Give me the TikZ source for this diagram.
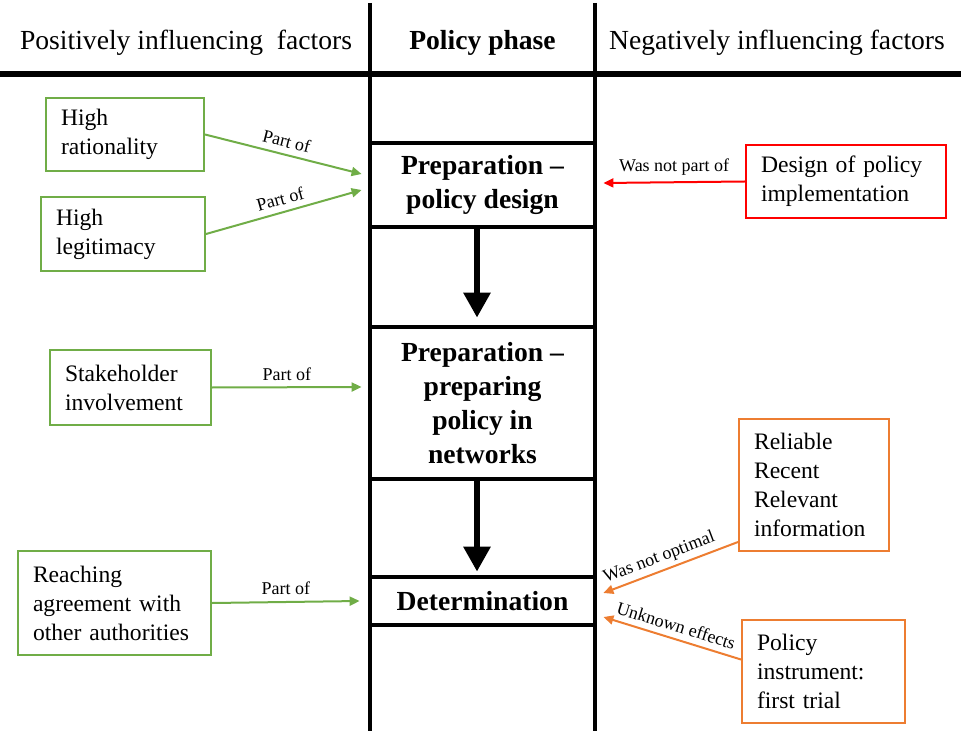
\documentclass[tikz,border=0pt]{standalone}
\usepackage{fontspec}
\setmainfont{Liberation Serif}
\usetikzlibrary{arrows.meta}
\definecolor{posgreen}{HTML}{70AD47}
\definecolor{negorange}{HTML}{ED7D31}
\definecolor{negred}{HTML}{FF0000}

\begin{document}
\begin{tikzpicture}[x=0.5pt, y=-0.5pt,
  factor/.style={draw, line width=1pt, align=left, inner xsep=7.5pt, inner ysep=0pt,
    font=\fontsize{11.8}{14.5}\selectfont},
  phase/.style={align=center, minimum width=112.5pt, inner sep=0pt,
    font=\fontsize{13.8}{17}\selectfont\bfseries},
  header/.style={font=\fontsize{13.8}{15}\selectfont},
  rule/.style={line width=2pt},
  flow/.style={line width=3pt, -{Triangle[length=12.5pt, width=13pt]}},
  link/.style={line width=1pt, -{Triangle[length=5pt, width=4.5pt]}},
  tag/.style={font=\fontsize{9}{10}\selectfont, inner sep=3pt},
]
  \useasboundingbox (0,0) rectangle (961,731);

  % table frame
  \draw[line width=3pt] (0,74) -- (961,74);
  \draw[rule] (370,3) -- (370,731);
  \draw[rule] (595,3) -- (595,731);

  % headers
  \node[header] (poshead) at (186,43) {Positively influencing~~factors};
  \node[header, font=\fontsize{13.8}{15}\selectfont\bfseries] (phasehead) at (482.5,43) {Policy phase};
  \node[header] (neghead) at (777,43) {Negatively influencing~factors};

  % policy phases
  \node[phase, minimum height=42pt] (prep1) at (482.5,185) {Preparation –\\policy design};
  \node[phase, minimum height=76pt] (prep2) at (482.5,403) {Preparation –\\preparing\\policy in\\networks};
  \node[phase, minimum height=24pt] (determ) at (482.5,601) {Determination};
  \draw[rule] (prep1.north west) -- (prep1.north east);
  \draw[rule] (prep1.south west) -- (prep1.south east);
  \draw[rule] (prep2.north west) -- (prep2.north east);
  \draw[rule] (prep2.south west) -- (prep2.south east);
  \draw[rule] (determ.north west) -- (determ.north east);
  \draw[rule] (determ.south west) -- (determ.south east);
  \draw[flow] ([xshift=-2.75pt]prep1.south) -- ([xshift=-2.75pt, yshift=4.5pt]prep2.north);
  \draw[flow] ([xshift=-2.75pt]prep2.south) -- ([xshift=-2.75pt, yshift=2.5pt]determ.north);

  % positive factors
  \node[factor, draw=posgreen, text width=64pt, minimum height=36.5pt] (rationality) at (125,134.5) {High\\rationality};
  \node[factor, draw=posgreen, text width=67pt, minimum height=37pt] (legitimacy) at (123,234) {High\\legitimacy};
  \node[factor, draw=posgreen, text width=65.5pt, minimum height=37.5pt] (stakeholder) at (130.5,387.5) {Stakeholder\\involvement};
  \node[factor, draw=posgreen, text width=81.5pt, minimum height=52pt] (agreement) at (114.5,603) {Reaching\\agreement with\\other authorities};

  \draw[link, posgreen] (rationality.east) -- ([xshift=-4pt, yshift=5.5pt]prep1.west)
    node[tag, black, midway, sloped, above] {Part of};
  \draw[link, posgreen] (legitimacy.east) -- ([xshift=-4pt, yshift=-2.5pt]prep1.west)
    node[tag, black, midway, sloped, above] {Part of};
  \draw[link, posgreen] (stakeholder.east) -- ([xshift=-4pt, yshift=8pt]prep2.west)
    node[tag, black, midway, above] {Part of};
  \draw[link, posgreen] (agreement.east) -- ([xshift=-5pt]determ.west)
    node[tag, black, midway, above] {Part of};

  % negative factors
  \node[factor, draw=negred, text width=85pt, minimum height=36.5pt] (implement) at (846,181.5) {Design of policy\\implementation};
  \node[factor, draw=negorange, text width=60pt, minimum height=66pt] (information) at (814,485) {Reliable\\Recent\\Relevant\\information};
  \node[factor, draw=negorange, text width=66.5pt, minimum height=51.5pt] (instrument) at (823.5,671.5) {Policy\\instrument:\\first trial};

  \draw[link, negred] (implement.west) -- ([xshift=4pt, yshift=1pt]prep1.east)
    node[tag, black, midway, above] {Was not part of};
  \draw[link, negorange] ([yshift=5pt]information.south west) -- ([xshift=4pt, yshift=4pt]determ.east)
    node[tag, black, pos=0.55, sloped, above, inner sep=2pt] {Was not optimal};
  \draw[link, negorange] ([yshift=6pt]instrument.west) -- ([xshift=4pt, yshift=-8pt]determ.east)
    node[tag, black, midway, sloped, above] {Unknown effects};
\end{tikzpicture}
\end{document}
